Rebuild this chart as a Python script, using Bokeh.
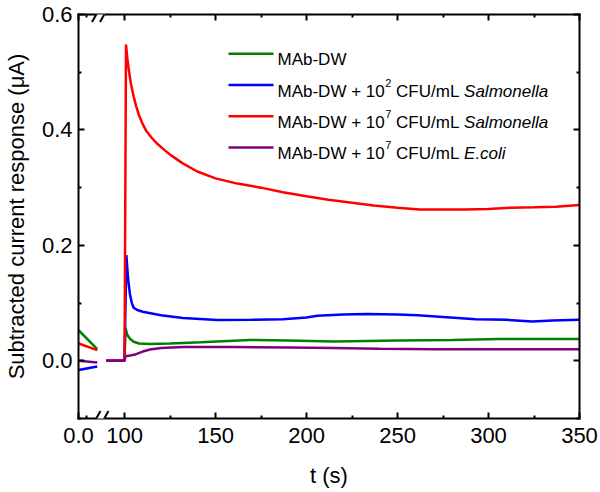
from bokeh.plotting import figure
from bokeh.models import (Range1d, LinearAxis, FixedTicker, CustomJSTickFormatter,
                          NumeralTickFormatter, Label, Arrow, BoxAnnotation)
from bokeh.embed import file_html
from bokeh.resources import INLINE

# ---------------- data ----------------
# left (pre-break) segment, time in s
t_left = [0.0, 1.17]
green_left = [0.053, 0.020]
blue_left = [-0.016, -0.010]
red_left = [0.030, 0.0185]
purple_left = [0.0, -0.003]

# right segment, time in s
t_green = [90, 100, 100.5, 101.5, 103, 105, 108, 114, 125, 142, 169, 190, 215, 251, 280, 306, 330, 350]
v_green = [0, 0, 0.057, 0.045, 0.038, 0.033, 0.030, 0.029, 0.030, 0.032, 0.036, 0.035, 0.0335, 0.035, 0.036, 0.0376, 0.0378, 0.0376]

t_blue = [90, 100, 101, 102, 103, 104, 105, 107, 110, 115, 120, 132, 151, 170, 187, 200, 206, 220, 233, 250, 261, 275, 293, 310, 324, 335, 350]
v_blue = [0, 0, 0.183, 0.140, 0.115, 0.100, 0.092, 0.088, 0.085, 0.082, 0.079, 0.074, 0.0705, 0.071, 0.072, 0.075, 0.078, 0.080, 0.081, 0.080, 0.079, 0.076, 0.072, 0.071, 0.068, 0.070, 0.071]

t_red = [90, 100, 100.8, 101.5, 102.4, 103.5, 105, 106.5, 108, 110, 112, 115, 118, 122, 126, 132, 140, 150, 162, 175, 187, 200, 212, 225, 237, 250, 262, 275, 287, 300, 312, 325, 337, 350]
v_red = [0, 0, 0.548, 0.525, 0.503, 0.480, 0.458, 0.440, 0.425, 0.410, 0.398, 0.386, 0.376, 0.365, 0.355, 0.342, 0.328, 0.316, 0.307, 0.300, 0.292, 0.285, 0.279, 0.274, 0.269, 0.265, 0.262, 0.262, 0.262, 0.263, 0.265, 0.266, 0.267, 0.270]

t_purple = [90, 100, 100.5, 103, 106, 110, 114, 120, 132, 160, 190, 215, 240, 270, 300, 350]
v_purple = [0, 0, 0.008, 0.009, 0.011, 0.016, 0.0196, 0.022, 0.024, 0.024, 0.023, 0.022, 0.021, 0.020, 0.020, 0.020]

x_major = [100, 150, 200, 250, 300, 350]
x_minor = [125, 175, 225, 275, 325]
y_major = [0.0, 0.2, 0.4, 0.6]
y_minor = [-0.1, 0.1, 0.3, 0.5]

labels_species = ["Salmonella", "Salmonella", "E.coli"]
exponents = ["2", "7", "7"]

colors = {"green": "#008000", "blue": "#0000FF", "red": "#FF0000", "purple": "#800080"}

# ---------------- broken-axis mapping ----------------
LEFT_ORIGIN = 74.73   # display position of t = 0.0
LEFT_SCALE = 8.78     # display units per second on the left piece


def left_disp(ts):
    return [LEFT_ORIGIN + t * LEFT_SCALE for t in ts]


X0, X1 = 74.7, 350.0
Y0, Y1 = -0.1, 0.6
FL, FR, FT, FB = 78.0, 579.0, 14.0, 418.0   # frame in page pixels
W, H = 600, 492


def dx(px):
    return X0 + (px - FL) / (FR - FL) * (X1 - X0)


def dy(py):
    return Y1 - (py - FT) / (FB - FT) * (Y1 - Y0)


FONT = "Liberation Sans"

p = figure(width=W, height=H, x_range=Range1d(X0, X1), y_range=Range1d(Y0, Y1),
           output_backend="svg", toolbar_location=None,
           min_border_left=int(FL), min_border_right=int(W - FR), min_border_top=int(FT),
           min_border_bottom=int(H - FB))
p.outline_line_color = None
p.xgrid.visible = False
p.ygrid.visible = False
p.background_fill_color = "white"
p.border_fill_color = "white"

xt = FixedTicker(ticks=[LEFT_ORIGIN] + x_major, minor_ticks=[LEFT_ORIGIN + 0.5 * LEFT_SCALE] + x_minor)
yt = FixedTicker(ticks=y_major, minor_ticks=y_minor)
xfmt = CustomJSTickFormatter(code="return tick < 90 ? '0.0' : tick.toFixed(0);")
blank = CustomJSTickFormatter(code="return '';")


def style_axis(ax, show_labels):
    ax.axis_line_width = 2
    ax.axis_line_color = "black"
    ax.axis_line_cap = "square"
    ax.major_tick_in = 6
    ax.major_tick_out = 0
    ax.minor_tick_in = 3
    ax.minor_tick_out = 0
    ax.major_tick_line_width = 2
    ax.minor_tick_line_width = 2
    ax.major_tick_line_color = "black"
    ax.minor_tick_line_color = "black"
    if show_labels:
        ax.major_label_text_font = FONT
        ax.major_label_text_font_size = "22px"
        ax.major_label_text_color = "black"
        ax.axis_label_text_font = FONT
        ax.axis_label_text_font_size = "22px"
        ax.axis_label_text_font_style = "normal"
        ax.axis_label_text_color = "black"
    else:
        ax.formatter = blank
        ax.major_label_standoff = 0
        ax.axis_label = None


bx = p.xaxis[0]
bx.ticker = xt
bx.formatter = xfmt
bx.axis_label = "t (s)"
style_axis(bx, True)
bx.major_label_standoff = 9
bx.axis_label_standoff = 17

ly = p.yaxis[0]
ly.ticker = yt
ly.formatter = NumeralTickFormatter(format="0.0")
ly.axis_label = "Subtracted current response (\u03bcA)"
style_axis(ly, True)
ly.major_label_standoff = 6
ly.axis_label_standoff = 10

top = LinearAxis(ticker=xt)
style_axis(top, False)
p.add_layout(top, "above")
right = LinearAxis(ticker=yt)
style_axis(right, False)
p.add_layout(right, "right")

# ---------------- curves ----------------
LW = 2.5
series = [
    (green_left, t_green, v_green, colors["green"]),
    (blue_left, t_blue, v_blue, colors["blue"]),
    (red_left, t_red, v_red, colors["red"]),
    (purple_left, t_purple, v_purple, colors["purple"]),
]
for vl, tr, vr, c in series:
    p.line(left_disp(t_left), vl, line_color=c, line_width=LW)
    p.line(tr, vr, line_color=c, line_width=LW)

# ---------------- axis break marks ----------------
for yl in (FT, FB):
    p.add_layout(BoxAnnotation(left=dx(96.0), right=dx(104.5), bottom=dy(yl + 3), top=dy(yl - 3),
                               fill_color="white", fill_alpha=1.0, line_color=None, level="overlay"))
    for xs in (91.5, 99.5):
        p.add_layout(Arrow(end=None, x_start=dx(xs), y_start=dy(yl + 7.5), x_end=dx(xs + 8.5),
                           y_end=dy(yl - 7.5), line_color="black", line_width=2, level="overlay"))

# ---------------- legend (manual, for superscripts / italics) ----------------
AW = {"M": 833, "A": 667, "b": 556, "-": 333, "D": 722, "W": 944, " ": 278, "+": 584,
      "1": 556, "0": 556, "2": 556, "7": 556, "C": 722, "F": 611, "U": 722, "/": 278,
      "m": 833, "L": 556}


def tw(s, size):
    return sum(AW.get(ch, 556) for ch in s) * size / 1000.0


rows_py = [53.3, 84.5, 115.8, 147.0]
row_colors = [colors["green"], colors["blue"], colors["red"], colors["purple"]]
LS = 17
SS = 11


def txt(px, py, s, size, style="normal"):
    p.add_layout(Label(x=dx(px), y=dy(py), text=s, text_font=FONT, text_font_size=f"{size}px",
                       text_font_style=style, text_baseline="alphabetic", text_align="left",
                       text_color="black"))


for i, (ry, c) in enumerate(zip(rows_py, row_colors)):
    p.line([dx(228), dx(273)], [dy(ry), dy(ry)], line_color=c, line_width=LW)
    x = 277.0
    base = ry + 6.0
    if i == 0:
        txt(x, base, "MAb-DW", LS)
        continue
    main = "MAb-DW + 10"
    txt(x, base, main, LS)
    x += tw(main, LS) + 0.5
    txt(x, ry - 2.5, exponents[i - 1], SS)
    x += tw("2", SS) + tw(" ", LS)
    txt(x, base, "CFU/mL", LS)
    x += tw("CFU/mL", LS) + tw(" ", LS)
    txt(x, base, labels_species[i - 1], LS, "italic")

open("out.html", "w").write(file_html(p, INLINE))
